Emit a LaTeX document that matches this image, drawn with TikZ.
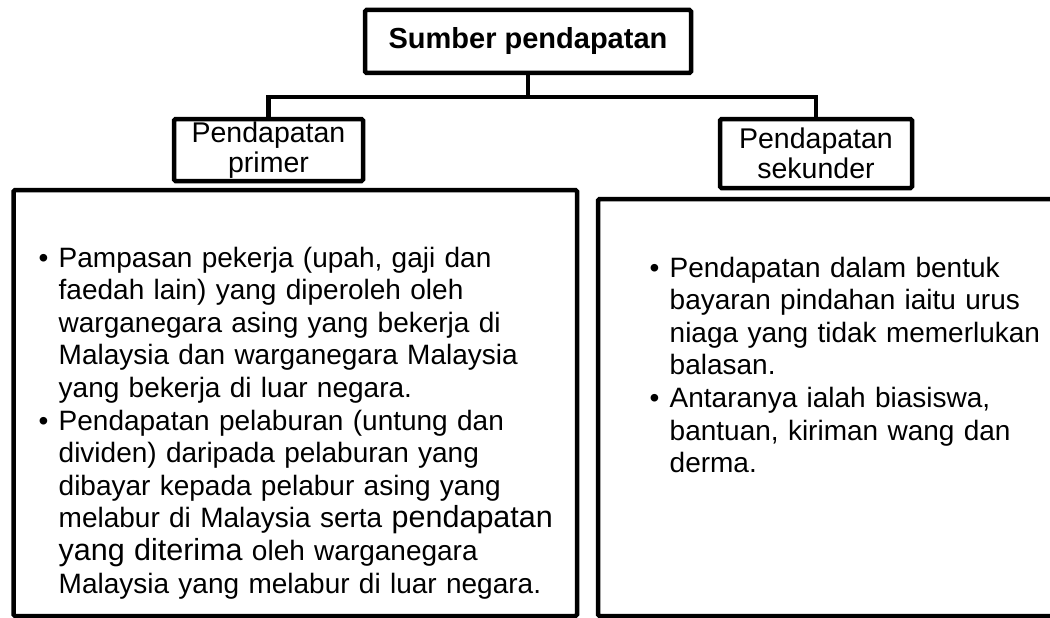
\documentclass[tikz,border=0pt]{standalone}
\usepackage{fontspec}
\setmainfont{Liberation Sans}
\tikzset{
  hdB/.style  = {draw, line width=4.5pt, rounded corners=1.5pt, align=center,
                 inner sep=0pt},
  topB/.style = {hdB, font=\fontsize{29}{31}\selectfont\bfseries},
  subB/.style = {hdB, font=\fontsize{28.5}{30.5}\selectfont},
  bigB/.style = {draw, line width=4.5pt, rounded corners=1.5pt, inner sep=0pt},
  txt/.style  = {inner sep=0pt, anchor=base west,
                 font=\fontsize{28}{32.6}\selectfont,
                 execute at begin node=\raggedright},
  L/.style    = {line width=4.5pt},
}
\newcommand{\bul}{\noindent\hangindent=20pt\hangafter=1\makebox[20pt][l]{\textbullet}}
\newcommand{\bigw}[1]{{\fontsize{30.5}{32.6}\selectfont #1}}

\begin{document}
\begin{tikzpicture}[x=1pt, y=-1pt]
\useasboundingbox (0,0) rectangle (1050,618);

%% ─── Heading boxes ───────────────────────────────────────────────
\node[topB, minimum width=326pt, minimum height=63pt] (src) at (528,41.5)
  {Sumber pendapatan};

\node[subB, minimum width=189pt, minimum height=62pt] (prim) at (268.5,150)
  {Pendapatan\\primer};
\node[subB, minimum width=192pt, minimum height=69pt] (sek) at (816,153.5)
  {Pendapatan\\sekunder};

%% ─── Connectors ──────────────────────────────────────────────────
\coordinate (bus) at (528,97);
\draw[L] (src.south) -- (bus);
\draw[L] (prim.north) |- (bus) -| (sek.north);

%% ─── Content boxes ───────────────────────────────────────────────
\node[bigB, minimum width=563.5pt, minimum height=426pt] (primBox) at (295.25,403) {};
\node[bigB, minimum width=456pt, minimum height=417pt] (sekBox) at (826,407.5) {};

\node[txt, text width=530pt] (primTxt) at (38.5,267)
  {\bul Pampasan pekerja (upah, gaji dan\newline
   faedah lain) yang diperoleh oleh\newline
   warganegara asing yang bekerja di\newline
   Malaysia dan warganegara Malaysia\newline
   yang bekerja di luar negara.\par
   \bul Pendapatan pelaburan (untung dan\newline
   dividen) daripada pelaburan yang\newline
   dibayar kepada pelabur asing yang\newline
   melabur di Malaysia serta \bigw{pendapatan}\newline
   \bigw{yang diterima} oleh warganegara\newline
   Malaysia yang melabur di luar negara.\par};

\node[txt, text width=395pt] (sekTxt) at (649.5,277)
  {\bul Pendapatan dalam bentuk\newline
   bayaran pindahan iaitu urus\newline
   niaga yang tidak memerlukan\newline
   balasan.\par
   \bul Antaranya ialah biasiswa,\newline
   bantuan, kiriman wang dan\newline
   derma.\par};

\end{tikzpicture}
\end{document}
